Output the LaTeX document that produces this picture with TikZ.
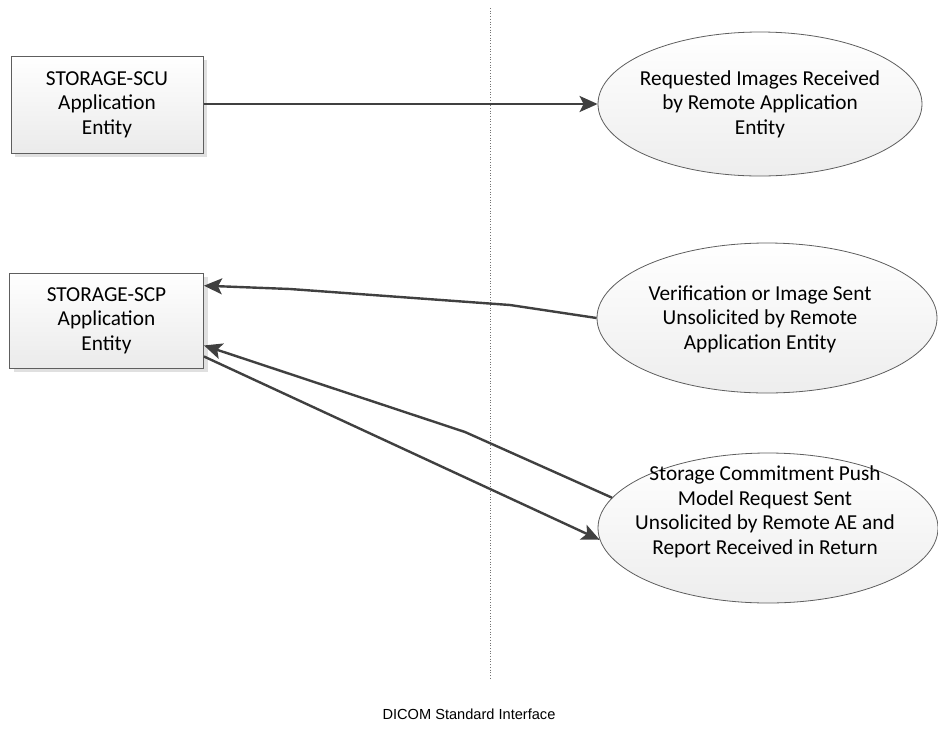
\documentclass[tikz,border=0pt]{standalone}
\usepackage{fontspec}
\setmainfont{Carlito}
\newfontfamily\capfont{Liberation Sans}
\usetikzlibrary{arrows.meta,shadows,calc,shapes.geometric}

\definecolor{edgegray}{HTML}{5E5E5E}
\definecolor{linegray}{HTML}{404040}

\tikzset{
  entity/.style={draw=edgegray, line width=1pt, rectangle, inner sep=0pt,
    top color=white, bottom color=black!8,
    drop shadow={shadow xshift=4pt, shadow yshift=-4pt, fill=black!12, opacity=1},
    align=center, font=\fontsize{21.3}{24.5}\selectfont},
  oval/.style={draw=edgegray, line width=0.8pt, ellipse, inner sep=0pt,
    top color=white, bottom color=black!7},
  lbl/.style={align=center, inner sep=0pt, font=\fontsize{21.3}{24.5}\selectfont},
  flow/.style={draw=linegray, line width=2.4pt, line join=round,
    -{Stealth[length=18pt, width=16pt, inset=4pt]}},
  divider/.style={draw=black!55, line width=0.7pt, dotted}
}

\begin{document}
\begin{tikzpicture}[x=1pt, y=-1pt]
  \useasboundingbox (0,0) rectangle (938,732);

  % interface boundary
  \coordinate (dtop) at (490,8);
  \coordinate (dbot) at (490,680);
  \draw[divider] (dtop) -- (dbot);

  % local application entities
  \node[entity, minimum width=192pt, minimum height=97pt] (scu) at (107,104.5)
    {STORAGE-SCU\\Application\\Entity};
  \node[entity, minimum width=194pt, minimum height=95pt] (scp) at (106.5,320.5)
    {STORAGE-SCP\\Application\\Entity};

  % remote activities
  \node[oval, minimum width=324pt, minimum height=144pt] (e1) at (760,104)
    {};
  \node[lbl] (e1t) at (760,104)
    {Requested Images Received\\by Remote Application\\Entity};
  \node[oval, minimum width=340pt, minimum height=150pt] (e2) at (767,318)
    {};
  \node[lbl] (e2t) at (760,319)
    {Verification or Image Sent\\Unsolicited by Remote\\Application Entity};
  \node[oval, minimum width=340pt, minimum height=150pt] (e3) at (768,528)
    {};
  \node[lbl] (e3t) at (765,512)
    {Storage Commitment Push\\Model Request Sent\\Unsolicited by Remote AE and\\Report Received in Return};

  % attachment points on the SCP box
  \coordinate (scpin1) at ($(scp.north east)!0.137!(scp.south east)$);
  \coordinate (scpin2) at ($(scp.north east)!0.76!(scp.south east)$);
  \coordinate (scpout) at ($(scp.north east)!0.875!(scp.south east)$);

  % bend points
  \coordinate (k1) at (510,305);
  \coordinate (k2) at (290,289);
  \coordinate (k3) at (465,432);

  % connectors
  \draw[flow] (scu.east |- e1.west) -- (e1.west);
  \draw[flow] (e2.west) -- (k1) -- (k2) -- (scpin1);
  \draw[flow] (e3.169) -- (k3) -- (scpin2);
  \draw[flow] (scpout) -- (e3.184);

  % caption
  \node[font=\capfont\fontsize{14.6}{17}\selectfont, inner sep=0pt] (cap) at (469,714)
    {DICOM Standard Interface};
\end{tikzpicture}
\end{document}
